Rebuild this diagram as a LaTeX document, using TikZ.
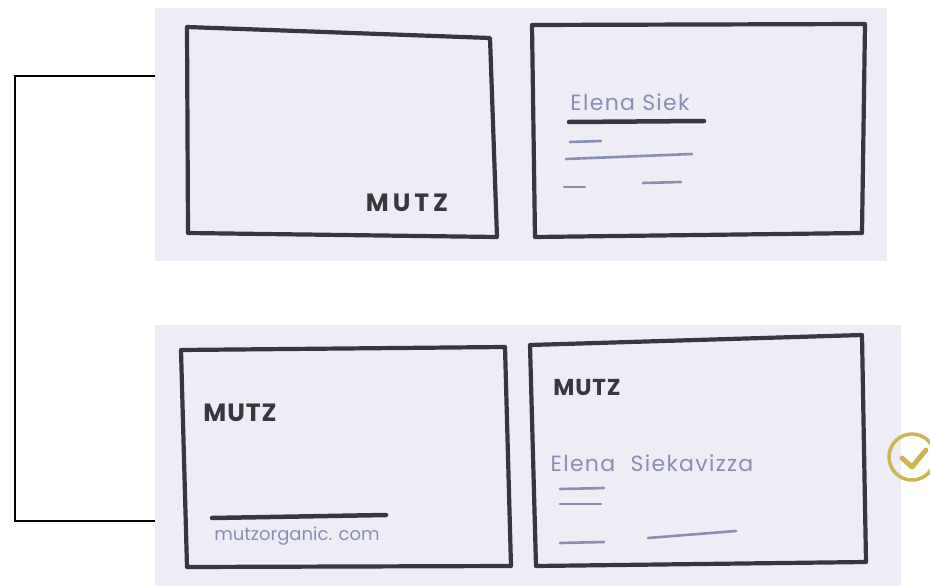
\documentclass[tikz,border=0pt]{standalone}
\usepackage{fontspec}
\setmainfont{Poppins}
\usepackage{tikz}
\usetikzlibrary{positioning}
\definecolor{paper}{RGB}{238,237,246}
\definecolor{ink}{RGB}{56,55,62}
\definecolor{pen}{RGB}{136,143,178}
\definecolor{gold}{RGB}{204,182,82}

\begin{document}
\begin{tikzpicture}[x=1pt, y=-1pt,
    sheet/.style={fill=paper, draw=none, inner sep=0pt, outer sep=0pt, anchor=north west},
    card/.style={draw=ink, line width=4.2pt, line join=round, line cap=round},
    logo/.style={text=ink, inner sep=0pt, font=\fontsize{25}{25}\selectfont\bfseries\addfontfeature{LetterSpace=16}},
    pen text/.style={text=pen, inner sep=0pt, font=\fontsize{22}{22}\selectfont\addfontfeature{LetterSpace=6}},
    ink line/.style={draw=ink, line width=4.5pt, line cap=round},
    pen line/.style={draw=pen, line width=2.6pt, line cap=round},
    bracket/.style={draw=black, line width=1.6pt}
]
    \useasboundingbox (0,0) rectangle (930,586);

    % paper sheets
    \node[sheet, minimum width=732pt, minimum height=253pt] (sheetTop) at (155,8) {};
    \node[sheet, minimum width=746pt, minimum height=261pt] (sheetBot) at (155,325) {};

    % bracket joining the two versions
    \coordinate (jTop) at (155,76);
    \coordinate (jBot) at (155,521);
    \draw[bracket] (jTop) -- ++(-140,0) |- (jBot);

    % version 1: front and back
    \draw[card] (187,27) -- (490,38) -- (497,237) -- (188,233) -- cycle;
    \draw[card] (532,25) -- (865,24) -- (862,233) -- (535,237) -- cycle;
    \node[logo] (logoA) at (407,203) {MUTZ};
    \node[pen text] (nameA) at (630,102) {Elena Siek};
    \draw[ink line] (569,122) -- (704,121);
    \foreach \a/\b/\c/\d in {570/142/601/141, 566/159/692/154, 564/187/585/187, 643/183/681/182}
      \draw[pen line] (\a,\b) -- (\c,\d);

    % version 2: front and back
    \draw[card] (181,350) -- (505,347) -- (511,566) -- (187,567) -- cycle;
    \draw[card] (530,345) -- (862,335) -- (866,562) -- (536,566) -- cycle;
    \node[logo, font=\fontsize{25}{25}\selectfont\bfseries\addfontfeature{LetterSpace=4}] (logoB) at (240,413) {MUTZ};
    \draw[ink line] (212,518) -- (386,515);
    \node[pen text, font=\fontsize{18}{18}\selectfont] (url) at (297,536) {mutzorganic. com};
    \node[logo, font=\fontsize{23}{23}\selectfont\bfseries\addfontfeature{LetterSpace=4}] (logoC) at (587,388) {MUTZ};
    \node[pen text] (nameB) at (652,463) {Elena\hspace{0.7em}Siekavizza};
    \foreach \a/\b/\c/\d in {560/489/604/488, 560/504/601/504, 560/543/604/542, 648/538/736/531}
      \draw[pen line] (\a,\b) -- (\c,\d);

    % chosen version
    \node[circle, draw=gold, line width=3.5pt, minimum size=46pt, inner sep=0pt] (check) at (912,457) {};
    \draw[gold, line width=5pt, line cap=round, line join=round]
      ([shift={(-10,1)}]check.center) -- ([shift={(0,10)}]check.center) -- ([shift={(14,-7)}]check.center);
\end{tikzpicture}
\end{document}
